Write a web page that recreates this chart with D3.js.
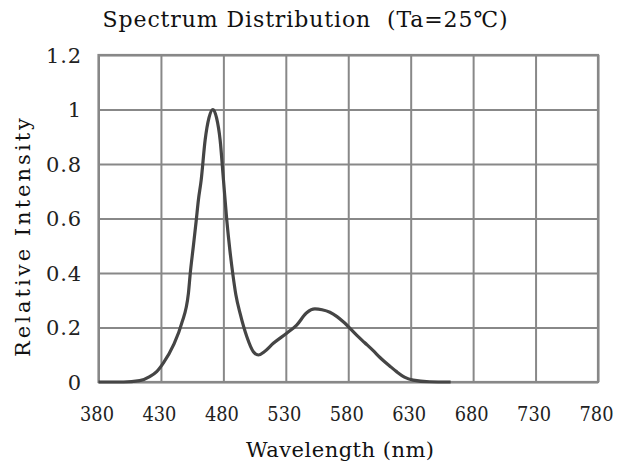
<!DOCTYPE html>
<html>
<head>
<meta charset="utf-8">
<script src="https://cdn.jsdelivr.net/npm/d3@7"></script>
<style>
  body { margin: 0; background: #fff; }
  svg { display: block; }
</style>
</head>
<body>
<div id="chart"></div>
<script>
// spectrum
const wavelength = [380, 400, 413, 421, 426.6, 432, 440, 446.6, 452, 453.4, 456, 458.2, 460, 462.2, 465.4,
  468.5, 471.6, 474.5, 477.4, 480.1, 482.8, 485.3, 487.6, 490, 493.5, 498.8, 504, 508, 513, 520, 530.7,
  538.7, 546.7, 553.3, 559, 565.3, 571, 576, 586.7, 593, 600, 605.4, 613.4, 618.7, 625, 632, 645, 662];
const intensity = [0, 0, 0.005, 0.02, 0.038, 0.07, 0.135, 0.215, 0.325, 0.395, 0.5, 0.59, 0.668, 0.74, 0.888,
  0.97, 1.0, 0.97, 0.888, 0.74, 0.59, 0.48, 0.395, 0.32, 0.25, 0.166, 0.111, 0.099, 0.112, 0.142, 0.179,
  0.209, 0.254, 0.268, 0.265, 0.256, 0.24, 0.221, 0.172, 0.145, 0.115, 0.09, 0.058, 0.038, 0.018, 0.007, 0.001, 0];

const xTicks = [380, 430, 480, 530, 580, 630, 680, 730, 780];
const yTicks = [0, 0.2, 0.4, 0.6, 0.8, 1, 1.2];
const yTickLabels = ["0", "0.2", "0.4", "0.6", "0.8", "1", "1.2"];

const titleText = "Spectrum Distribution  (Ta=25\u2103)";
const xTitle = "Wavelength (nm)";
const yTitle = "Relative Intensity";

const FONT = "'DejaVu Serif', 'Liberation Serif', 'Times New Roman', serif";
const W = 618, H = 464;
const margin = {top: 55, right: 20, bottom: 82, left: 98.5};
const width = W - margin.left - margin.right;
const height = H - margin.top - margin.bottom;

const svg = d3.select("#chart").append("svg")
    .attr("width", W)
    .attr("height", H)
    .attr("font-family", FONT);

const g = svg.append("g")
    .attr("transform", "translate(" + margin.left + "," + margin.top + ")");

const xScale = d3.scaleLinear().domain([380, 780]).range([0, width]);
const yScale = d3.scaleLinear().domain([0, 1.2]).range([height, 0]);

// grid
g.append("g").attr("class", "xGrid")
    .attr("transform", "translate(0," + height + ")")
    .call(d3.axisBottom(xScale).tickValues(xTicks).tickSize(-height).tickFormat(""))
    .call(a => a.select(".domain").remove());
g.append("g").attr("class", "yGrid")
    .call(d3.axisLeft(yScale).tickValues(yTicks).tickSize(-width).tickFormat(""))
    .call(a => a.select(".domain").remove());
g.selectAll(".xGrid line, .yGrid line")
    .attr("stroke", "#888")
    .attr("stroke-width", 2);

g.append("rect")
    .attr("width", width)
    .attr("height", height)
    .attr("fill", "none")
    .attr("stroke", "#888")
    .attr("stroke-width", 2.2);

// tick labels
g.selectAll(".xLab")
    .data(xTicks)
    .join("text")
    .attr("class", "xLab")
    .attr("x", d => xScale(d))
    .attr("dx", -1.5)
    .attr("y", height + 39)
    .attr("text-anchor", "middle")
    .attr("font-size", 20)
    .attr("fill", "#222")
    .attr("textLength", 34)
    .attr("lengthAdjust", "spacingAndGlyphs")
    .text(d => d);

g.selectAll(".yLab")
    .data(yTicks)
    .join("text")
    .attr("class", "yLab")
    .attr("x", -17.5)
    .attr("y", d => yScale(d))
    .attr("dy", "0.36em")
    .attr("text-anchor", "end")
    .attr("font-size", 21)
    .attr("fill", "#222")
    .each(function(d, i) {
        const t = d3.select(this).text(yTickLabels[i]);
        if (yTickLabels[i].length > 1) t.attr("textLength", 35).attr("lengthAdjust", "spacing");
    });

// curve
const line = d3.line()
    .x((d, i) => xScale(wavelength[i]))
    .y(d => yScale(d))
    .curve(d3.curveMonotoneX);

g.append("path")
    .datum(intensity)
    .attr("d", line)
    .attr("fill", "none")
    .attr("stroke", "#454545")
    .attr("stroke-width", 3.2)
    .attr("stroke-linejoin", "round");

// titles
svg.append("text")
    .attr("x", 102.5)
    .attr("y", 26.5)
    .attr("font-size", 22)
    .attr("fill", "#111")
    .attr("textLength", 405)
    .attr("lengthAdjust", "spacing")
    .attr("xml:space", "preserve")
    .style("white-space", "pre")
    .text(titleText);

svg.append("text")
    .attr("x", 246)
    .attr("y", 457)
    .attr("font-size", 21)
    .attr("fill", "#111")
    .attr("textLength", 188)
    .attr("lengthAdjust", "spacing")
    .text(xTitle);

svg.append("text")
    .attr("transform", "translate(30," + 357 + ") rotate(-90)")
    .attr("font-size", 21)
    .attr("fill", "#111")
    .attr("textLength", 239)
    .attr("lengthAdjust", "spacing")
    .text(yTitle);
</script>
</body>
</html>
